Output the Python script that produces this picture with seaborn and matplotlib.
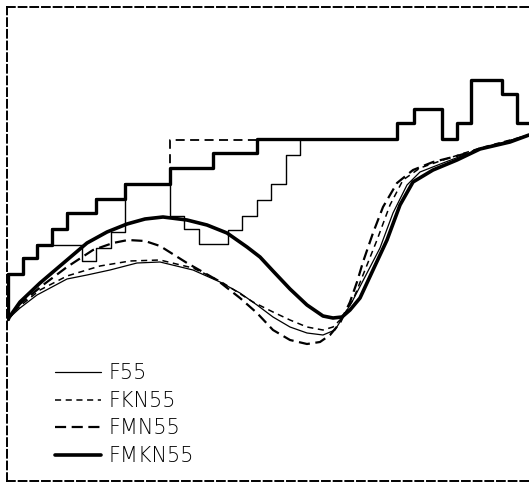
import matplotlib
matplotlib.use("Agg")
import matplotlib.pyplot as plt
import seaborn as sns

# ---------------- data (arbitrary units: x along axis, y height) ----------------
# smooth curves
f55_x = [1, 13, 30, 60, 80, 103, 130, 153, 186, 213, 233, 250, 266, 283, 300, 316, 328, 336, 346, 360, 373, 386, 400, 413, 436, 473, 522]
f55_y = [162, 173, 186, 202, 206, 211, 218, 219, 211, 199, 188, 176, 164, 154, 148, 146, 151, 164, 181, 208, 233, 268, 296, 309, 318, 332, 346]

fkn55_x = [1, 13, 33, 60, 93, 123, 153, 186, 213, 246, 266, 283, 300, 316, 326, 335, 346, 358, 370, 383, 396, 413, 436, 473, 522]
fkn55_y = [162, 175, 191, 205, 215, 220, 221, 213, 200, 179, 169, 161, 154, 151, 154, 163, 181, 211, 241, 276, 301, 313, 321, 333, 346]

fmn55_x = [1, 13, 36, 60, 86, 106, 121, 138, 153, 180, 210, 233, 250, 266, 283, 300, 313, 323, 333, 343, 350, 356, 366, 376, 390, 406, 426, 450, 473, 503, 522]
fmn55_y = [162, 177, 196, 214, 231, 238, 241, 240, 235, 218, 201, 183, 168, 151, 141, 137, 139, 146, 158, 179, 199, 219, 248, 274, 298, 311, 319, 325, 332, 340, 346]

fmkn55_x = [1, 13, 33, 60, 80, 100, 120, 138, 156, 180, 200, 220, 240, 253, 266, 283, 300, 316, 326, 335, 343, 353, 366, 380, 393, 406, 426, 450, 473, 503, 522]
fmkn55_y = [162, 179, 198, 221, 238, 249, 257, 262, 264, 261, 256, 248, 234, 224, 210, 192, 176, 165, 163, 164, 171, 183, 211, 241, 276, 299, 311, 321, 332, 339, 346]

# step (histogram) lines: bin start positions and levels
step_thick_x = [1, 1, 16, 30, 45, 60, 89, 118, 163, 206, 250, 390, 407, 435, 450, 464, 495, 510, 522]
step_thick_y = [162, 207, 223, 236, 252, 268, 282, 297, 313, 328, 342, 358, 372, 342, 358, 401, 387, 358, 358]

step_thin_x = [1, 1, 16, 30, 75, 89, 104, 118, 163, 177, 192, 221, 235, 250, 264, 279, 293, 390]
step_thin_y = [162, 207, 223, 236, 220, 233, 249, 297, 265, 252, 237, 251, 265, 281, 297, 326, 342, 342]

step_dash_x = [1, 1, 16, 30, 45, 60, 89, 118, 163, 390]
step_dash_y = [162, 207, 223, 236, 252, 268, 282, 297, 341, 341]

labels = ["F55", "FKN55", "FMN55", "FMKN55"]

# ---------------- drawing ----------------
sns.set_theme(style="white")
plt.rcParams["font.family"] = ["DejaVu Sans"]

fig = plt.figure(figsize=(5.29, 4.83), dpi=100)
ax = fig.add_axes([7 / 529, 2 / 483, 522 / 529, 474 / 483])

# steps
sns.lineplot(x=step_thin_x, y=step_thin_y, ax=ax, sort=False, estimator=None,
             drawstyle="steps-post", color="black", linewidth=1.0)
sns.lineplot(x=step_dash_x, y=step_dash_y, ax=ax, sort=False, estimator=None,
             drawstyle="steps-post", color="black", linewidth=1.3,
             linestyle=(0, (5, 3)))
sns.lineplot(x=step_thick_x, y=step_thick_y, ax=ax, sort=False, estimator=None,
             drawstyle="steps-post", color="black", linewidth=2.4)

# curves
sns.lineplot(x=f55_x, y=f55_y, ax=ax, sort=False, estimator=None,
             color="black", linewidth=0.9, label=labels[0])
sns.lineplot(x=fkn55_x, y=fkn55_y, ax=ax, sort=False, estimator=None,
             color="black", linewidth=1.1, linestyle=(0, (4, 3)), label=labels[1])
sns.lineplot(x=fmn55_x, y=fmn55_y, ax=ax, sort=False, estimator=None,
             color="black", linewidth=1.6, linestyle=(0, (5, 2.5)), label=labels[2])
sns.lineplot(x=fmkn55_x, y=fmkn55_y, ax=ax, sort=False, estimator=None,
             color="black", linewidth=2.6, label=labels[3])

ax.set_xlim(0, 522)
ax.set_ylim(0, 474)
ax.set_xticks([])
ax.set_yticks([])
ax.set_xlabel("")
ax.set_ylabel("")

for side in ["top", "left", "bottom"]:
    ax.spines[side].set_visible(True)
    ax.spines[side].set_color("black")
    ax.spines[side].set_linewidth(1.4)
    ax.spines[side].set_linestyle((0, (4, 2)))
ax.spines["right"].set_visible(False)

leg = ax.legend(loc="lower left", bbox_to_anchor=(0.092, 0.032), frameon=False,
                prop={"size": 15, "weight": "light"}, handlelength=2.2,
                handletextpad=0.35, labelspacing=0.36, borderpad=0.0,
                borderaxespad=0.0)
for t in leg.get_texts():
    t.set_color("black")

fig.savefig("out.png", dpi=100)
